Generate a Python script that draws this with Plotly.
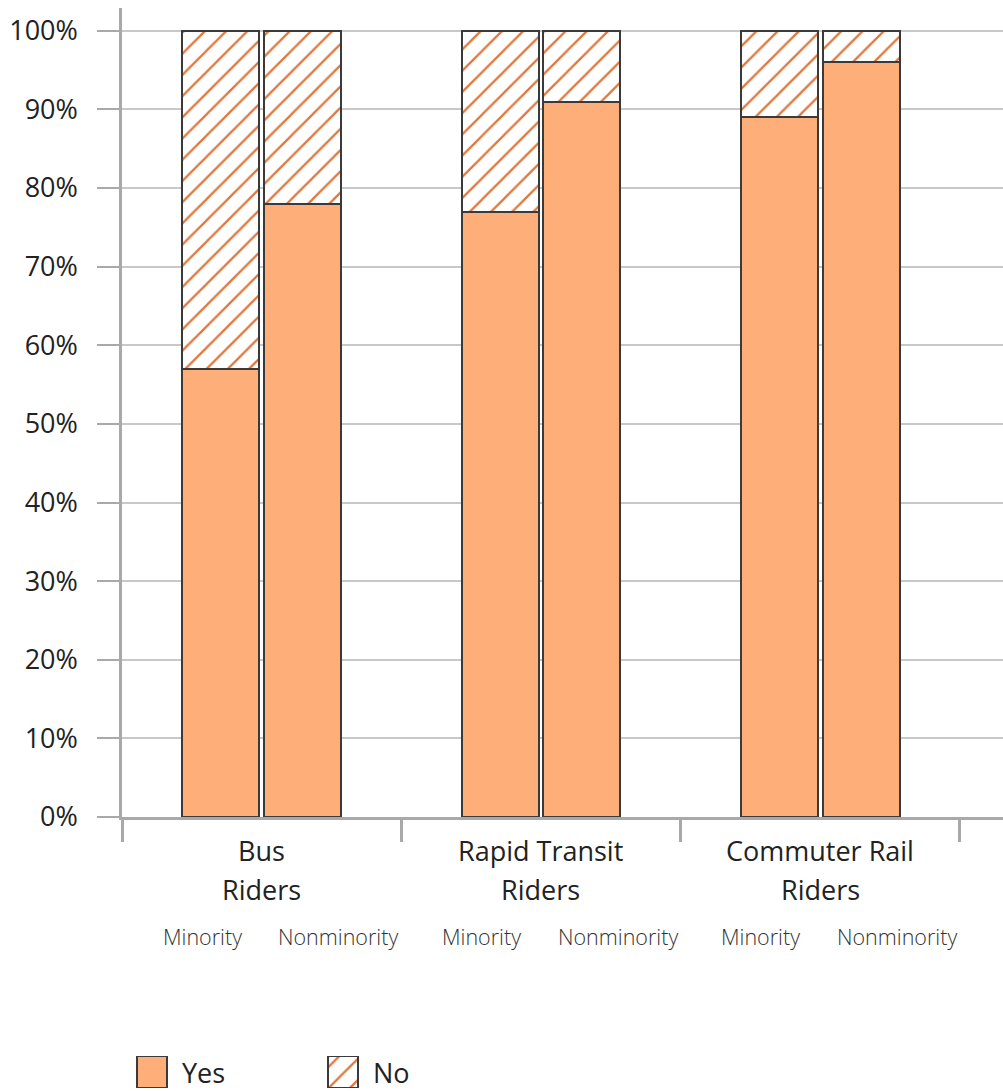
import plotly.graph_objects as go

# Share of riders answering Yes / No, by rider group and population
group_lines = [["Bus", "Riders"], ["Rapid Transit", "Riders"], ["Commuter Rail", "Riders"]]
populations = ["Minority", "Nonminority"]
yes_minority = [57, 77, 89]
yes_nonminority = [78, 91, 96]
no_minority = [100 - v for v in yes_minority]
no_nonminority = [100 - v for v in yes_nonminority]
y_ticks = [0, 10, 20, 30, 40, 50, 60, 70, 80, 90, 100]

W, H = 1003, 1091
YES_FILL = "#FDAE79"
HATCH = "#E0773D"
OUTLINE = "#3A3A3A"
AXIS_GRAY = "#A9A9A9"
GRID_GRAY = "#C8C8C8"
FONT = "Open Sans"


def py(px_from_top):
    """Convert a pixel row (from the top) into a paper fraction."""
    return (H - px_from_top) / H


# each group occupies one unit on x; the two bars sit either side of its centre
half_gap = 0.146
bar_w = 0.275
x_pos, yes_vals, no_vals = [], [], []
for i in range(len(group_lines)):
    x_pos += [i + 0.5 - half_gap, i + 0.5 + half_gap]
    yes_vals += [yes_minority[i], yes_nonminority[i]]
    no_vals += [no_minority[i], no_nonminority[i]]

hatch = dict(shape="/", fgcolor=HATCH, bgcolor="white",
             size=15, solidity=0.15, fillmode="replace")
outline = dict(color=OUTLINE, width=2)

fig = go.Figure()
fig.add_trace(go.Bar(
    x=x_pos, y=yes_vals, width=bar_w, name="Yes",
    marker=dict(color=YES_FILL, line=outline),
    showlegend=False,
))
fig.add_trace(go.Bar(
    x=x_pos, y=no_vals, width=bar_w, name="No",
    marker=dict(color="white", line=outline, pattern=hatch),
    showlegend=False,
))

# legend swatches drawn on a small auxiliary axis at the bottom
legend_items = ["Yes", "No"]
legend_x = [152, 343]
fig.add_trace(go.Bar(
    x=[legend_x[0]], y=[1], width=30, xaxis="x2", yaxis="y2",
    marker=dict(color=YES_FILL, line=outline),
    showlegend=False, hoverinfo="skip",
))
fig.add_trace(go.Bar(
    x=[legend_x[1]], y=[1], width=30, xaxis="x2", yaxis="y2",
    marker=dict(color="white", line=outline, pattern=hatch),
    showlegend=False, hoverinfo="skip",
))

annotations = []
for i, lines in enumerate(group_lines):
    for row, (txt, ypix) in enumerate(zip(lines, [851, 889])):
        annotations.append(dict(
            x=i + 0.5, y=py(ypix), xref="x", yref="paper", yanchor="middle",
            text=txt, showarrow=False,
            font=dict(family=FONT, size=27, color="#222222"),
        ))
    annotations.append(dict(
        x=i + 0.287, y=py(936), xref="x", yref="paper", yanchor="middle",
        text=populations[0], showarrow=False,
        font=dict(family=FONT, size=21.5, color="#333333", weight=300),
    ))
    annotations.append(dict(
        x=i + 0.7745, y=py(936), xref="x", yref="paper", yanchor="middle",
        text=populations[1], showarrow=False,
        font=dict(family=FONT, size=21.5, color="#333333", weight=300),
    ))
for lx, lab in zip(legend_x, legend_items):
    annotations.append(dict(
        x=lx + 28, y=0.5, xref="x2", yref="y2", xanchor="left",
        text=lab, showarrow=False,
        font=dict(family=FONT, size=27, color="#222222"),
    ))

fig.update_layout(
    width=W, height=H,
    margin=dict(l=0, r=0, t=0, b=0),
    paper_bgcolor="white", plot_bgcolor="white",
    barmode="stack", bargap=0,
    font=dict(family=FONT, color="#222222"),
    annotations=annotations,
    xaxis=dict(
        domain=[122 / W, 1], range=[0, 3.154],
        tickvals=[0, 1, 2, 3], showticklabels=False,
        ticks="outside", ticklen=22, tickwidth=2.5, tickcolor=AXIS_GRAY,
        showline=True, linecolor=AXIS_GRAY, linewidth=2.5,
        showgrid=False, zeroline=False, automargin=False,
    ),
    yaxis=dict(
        domain=[py(817), py(8)],
        range=[0, 102.9],
        tickvals=y_ticks, ticktext=[f"{v}%" for v in y_ticks],
        ticks="outside", ticklen=22, tickwidth=2, tickcolor=AXIS_GRAY,
        ticklabelstandoff=14,
        tickfont=dict(family=FONT, size=27, color="#222222"),
        showline=True, linecolor=AXIS_GRAY, linewidth=2.5,
        showgrid=True, gridcolor=GRID_GRAY, gridwidth=1.5,
        zeroline=False, automargin=False,
    ),
    xaxis2=dict(
        domain=[0, 1], range=[0, W], anchor="y2",
        visible=False, fixedrange=True, automargin=False,
    ),
    yaxis2=dict(
        domain=[py(1088), py(1056)], range=[0, 1], anchor="x2",
        visible=False, fixedrange=True, automargin=False,
    ),
)

fig.write_html("out.html")
